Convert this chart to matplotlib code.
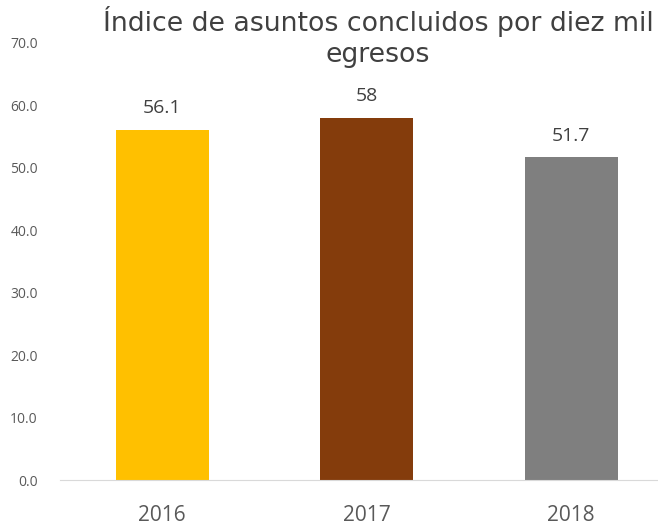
import matplotlib.pyplot as plt

years = ["2016", "2017", "2018"]
values = [56.1, 58.0, 51.7]
value_labels = ["56.1", "58", "51.7"]
colors = ["#FFC000", "#843C0C", "#7F7F7F"]

plt.rcParams['font.family'] = ['Open Sans', 'DejaVu Sans']

fig = plt.figure(figsize=(6.58, 5.26), dpi=100)
W, H = 658, 526
ax = fig.add_axes([60 / W, (526 - 480) / H, (658 - 60) / W, (480 - 43) / H])

x = list(range(len(years)))
ax.bar(x, values, width=0.455, color=colors)

for xi, v, lab in zip(x, values, value_labels):
    ax.text(xi, v + 2.0, lab, ha="center", va="bottom", fontsize=14, color="#404040")

ax.set_ylim(0, 70)
ax.set_xlim(-0.5, (658 - 162) / 204.5)
ax.set_yticks(range(0, 71, 10))
ax.set_yticklabels([f"{t:.1f}" for t in range(0, 71, 10)], fontsize=10, color="#595959")
ax.set_xticks(x)
ax.set_xticklabels(years, fontsize=15, color="#595959")
ax.tick_params(axis="both", length=0)
ax.tick_params(axis="y", pad=16)
ax.tick_params(axis="x", pad=18)

for s in ["top", "right", "left"]:
    ax.spines[s].set_visible(False)
ax.spines["bottom"].set_color("#D9D9D9")

fig.text(378 / W, 1 - 6 / H, "Índice de asuntos concluidos por diez mil\negresos",
         ha="center", va="top", fontsize=19.3, color="#404040", linespacing=1.25,
         family=["DejaVu Sans"])

fig.savefig("out.png", dpi=100)
